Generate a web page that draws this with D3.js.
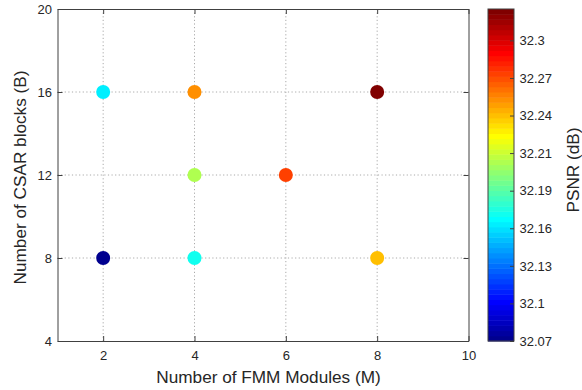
<!DOCTYPE html>
<html><head><meta charset="utf-8">
<script src="https://cdn.jsdelivr.net/npm/d3@7"></script>
<style>body{margin:0;background:#fff}svg{display:block;font-family:"Liberation Sans",Arial,sans-serif}</style>
</head><body><svg id="c" width="582" height="390"></svg>
<script>
// Data
const modulesM = [2, 2, 4, 4, 4, 6, 8, 8];
const blocksB  = [8, 16, 8, 12, 16, 12, 8, 16];
const psnr     = [32.07, 32.161, 32.168, 32.208, 32.256, 32.273, 32.244, 32.324];
const xTicks = [2, 4, 6, 8, 10];
const yTicks = [4, 8, 12, 16, 20];
const cbTickValues = [32.07, 32.09875, 32.1275, 32.15625, 32.185, 32.21375, 32.2425, 32.27125, 32.3];
const cbTickLabels = ["32.07", "32.1", "32.13", "32.16", "32.19", "32.21", "32.24", "32.27", "32.3"];
const cMin = 32.07, cMax = 32.324;

// MATLAB jet(64)
function jetMap(m) {
  const n = Math.ceil(m / 4);
  const u = [];
  for (let i = 1; i <= n; i++) u.push(i / n);
  for (let i = 1; i < n; i++) u.push(1);
  for (let i = n; i >= 1; i--) u.push(i / n);
  const g0 = Math.ceil(n / 2) - (m % 4 === 1 ? 1 : 0);
  const cm = Array.from({length: m}, () => [0, 0, 0]);
  u.forEach((v, k) => {
    const g = g0 + k + 1, r = g + n, b = g - n;
    if (g >= 1 && g <= m) cm[g - 1][1] = v;
    if (r >= 1 && r <= m) cm[r - 1][0] = v;
    if (b >= 1 && b <= m) cm[b - 1][2] = v;
  });
  return cm.map(c => d3.rgb(c[0] * 255, c[1] * 255, c[2] * 255).toString());
}
const cmap = jetMap(64);
function colorOf(v) {
  let i = Math.floor((v - cMin) / (cMax - cMin) * 64);
  i = Math.max(0, Math.min(63, i));
  return cmap[i];
}

const svg = d3.select("#c");
const L = 57.5, R = 468.5, T = 9, B = 341;
const x = d3.scaleLinear().domain([1, 10]).range([L, R]);
const y = d3.scaleLinear().domain([4, 20]).range([B, T]);
const axisColor = "#404040";
const font = "Liberation Sans, Arial, sans-serif";

// grid
const grid = svg.append("g").attr("stroke", "#aaaaaa").attr("stroke-dasharray", "1.2,2.4").attr("stroke-width", 1);
xTicks.filter(t => t < 10).forEach(t => grid.append("line").attr("x1", x(t)).attr("x2", x(t)).attr("y1", T).attr("y2", B));
yTicks.filter(t => t > 4 && t < 20).forEach(t => grid.append("line").attr("x1", L).attr("x2", R).attr("y1", y(t)).attr("y2", y(t)));

// axes
const xAx = svg.append("g").attr("transform", `translate(0,${B})`)
  .call(d3.axisBottom(x).tickValues(xTicks).tickSizeInner(-5).tickSizeOuter(0).tickPadding(10));
const xAxTop = svg.append("g").attr("transform", `translate(0,${T})`)
  .call(d3.axisTop(x).tickValues(xTicks).tickSizeInner(-5).tickSizeOuter(0).tickFormat(""));
const yAx = svg.append("g").attr("transform", `translate(${L},0)`)
  .call(d3.axisLeft(y).tickValues(yTicks).tickSizeInner(-5).tickSizeOuter(0).tickPadding(5.5));
const yAxR = svg.append("g").attr("transform", `translate(${R},0)`)
  .call(d3.axisRight(y).tickValues(yTicks).tickSizeInner(-5).tickSizeOuter(0).tickFormat(""));
[xAx, xAxTop, yAx, yAxR].forEach(g => {
  g.selectAll("path").attr("stroke", axisColor);
  g.selectAll("line").attr("stroke", axisColor);
  g.selectAll("text").attr("fill", "#262626").style("font-size", "13px").style("font-family", font);
});

// points
svg.append("g").selectAll("circle").data(psnr).join("circle")
  .attr("cx", (d, i) => x(modulesM[i]))
  .attr("cy", (d, i) => y(blocksB[i]))
  .attr("r", 7)
  .attr("fill", d => colorOf(d));

// axis labels
svg.append("text").attr("x", 268.5).attr("y", 383).attr("text-anchor", "middle")
  .style("font-size", "17.2px").attr("fill", "#262626").text("Number of FMM Modules (M)");
svg.append("text").attr("transform", `translate(25.5,177.5) rotate(-90)`).attr("text-anchor", "middle")
  .style("font-size", "17.2px").attr("fill", "#262626").text("Number of CSAR blocks (B)");

// colorbar
const cbL = 488, cbR = 514;
const cy = d3.scaleLinear().domain([cMin, cMax]).range([B, T]);
const bandH = (B - T) / 64;
svg.append("g").selectAll("rect").data(cmap).join("rect")
  .attr("x", cbL).attr("width", cbR - cbL)
  .attr("y", (d, i) => B - (i + 1) * bandH).attr("height", bandH + 0.5)
  .attr("fill", d => d);
svg.append("rect").attr("x", cbL).attr("y", T).attr("width", cbR - cbL).attr("height", B - T)
  .attr("fill", "none").attr("stroke", axisColor);
const cbAx = svg.append("g").attr("transform", `translate(${cbR},0)`)
  .call(d3.axisRight(cy).tickValues(cbTickValues).tickFormat((d, i) => cbTickLabels[i]).tickSizeInner(-4).tickSizeOuter(0).tickPadding(5.5));
cbAx.select("path").remove();
cbAx.selectAll("line").attr("stroke", axisColor);
cbAx.selectAll("text").attr("fill", "#262626").style("font-size", "13px").style("font-family", font);
svg.append("text").attr("transform", `translate(579,170) rotate(-90)`).attr("text-anchor", "middle")
  .style("font-size", "17.2px").attr("fill", "#262626").text("PSNR (dB)");
</script></body></html>
